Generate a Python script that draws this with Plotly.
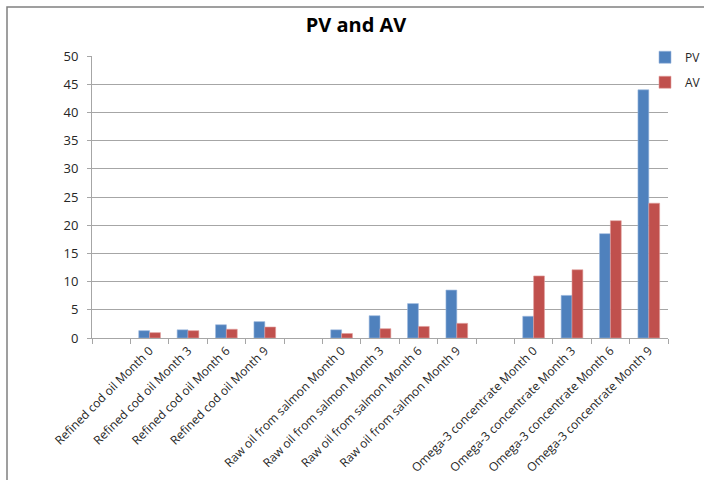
import plotly.graph_objects as go

categories = [" ",
              "Refined cod oil Month 0", "Refined cod oil Month 3", "Refined cod oil Month 6", "Refined cod oil Month 9",
              "  ",
              "Raw oil from salmon Month 0", "Raw oil from salmon Month 3", "Raw oil from salmon Month 6", "Raw oil from salmon Month 9",
              "   ",
              "Omega-3 concentrate Month 0", "Omega-3 concentrate Month 3", "Omega-3 concentrate Month 6", "Omega-3 concentrate Month 9"]
pv_values = [None, 1.3, 1.45, 2.35, 2.9, None, 1.45, 3.95, 6.1, 8.5, None, 3.85, 7.55, 18.5, 44.0]
av_values = [None, 0.95, 1.3, 1.55, 1.95, None, 0.8, 1.65, 2.05, 2.6, None, 11.0, 12.1, 20.8, 23.9]
y_ticks = [0, 5, 10, 15, 20, 25, 30, 35, 40, 45, 50]

fig = go.Figure()
fig.add_trace(go.Bar(name="PV", x=categories, y=pv_values, marker_color="#4F81BD", legendgroup="pv",
                     marker_line=dict(color="#9BB7DD", width=0.6)))
fig.add_trace(go.Bar(name="AV", x=categories, y=av_values, marker_color="#C0504D", legendgroup="av",
                     marker_line=dict(color="#E0A09E", width=0.6)))

W, H = 704, 480
L, R, T, B = 92, 36, 56, 142
pw, ph = W - L - R, H - T - B

fig.update_layout(
    width=W, height=H,
    margin=dict(l=L, r=R, t=T, b=B, autoexpand=False),
    paper_bgcolor="white", plot_bgcolor="white",
    barmode="group", bargap=0.435, bargroupgap=0,
    font=dict(family="Open Sans, Liberation Sans, sans-serif", size=12, color="#262626"),
    title=dict(text="<b>PV and AV</b>", xref="container", x=356 / W, xanchor="center",
               yref="container", y=1 - 25 / H, yanchor="middle",
               font=dict(size=20, color="#000000", family="Open Sans, Liberation Sans, sans-serif")),
    legend=dict(x=(645 - L) / pw, xanchor="left", y=1.047, yanchor="top",
                font=dict(size=12, color="#262626"), tracegroupgap=6,
                bgcolor="rgba(0,0,0,0)", itemwidth=30),
    showlegend=True,
    xaxis=dict(type="category", tickangle=-45, ticks="outside", tickson="boundaries", ticklen=5,
               tickcolor="#A6A6A6", showline=True, linecolor="#A6A6A6", linewidth=1,
               showgrid=False, automargin=False, tickfont=dict(size=12, color="#262626")),
    yaxis=dict(range=[0, 50], tickvals=y_ticks, ticks="outside", ticklen=4, tickcolor="#A6A6A6",
               showline=True, linecolor="#A6A6A6", linewidth=1, showgrid=True, gridcolor="#A6A6A6",
               gridwidth=1, zeroline=False, automargin=False, ticklabelstandoff=6,
               tickfont=dict(size=13, color="#262626")),
    shapes=[dict(type="rect", xref="paper", yref="paper",
                 x0=(7 - L) / pw, x1=(W + 5 - L) / pw,
                 y0=-(B + 10) / ph, y1=1 + (T - 7) / ph,
                 line=dict(color="#808080", width=1.5), fillcolor="rgba(0,0,0,0)", layer="below")],
)

fig.write_html("out.html", config={"displayModeBar": False},
               post_script="document.body.style.margin='0';document.body.style.overflow='hidden';")
